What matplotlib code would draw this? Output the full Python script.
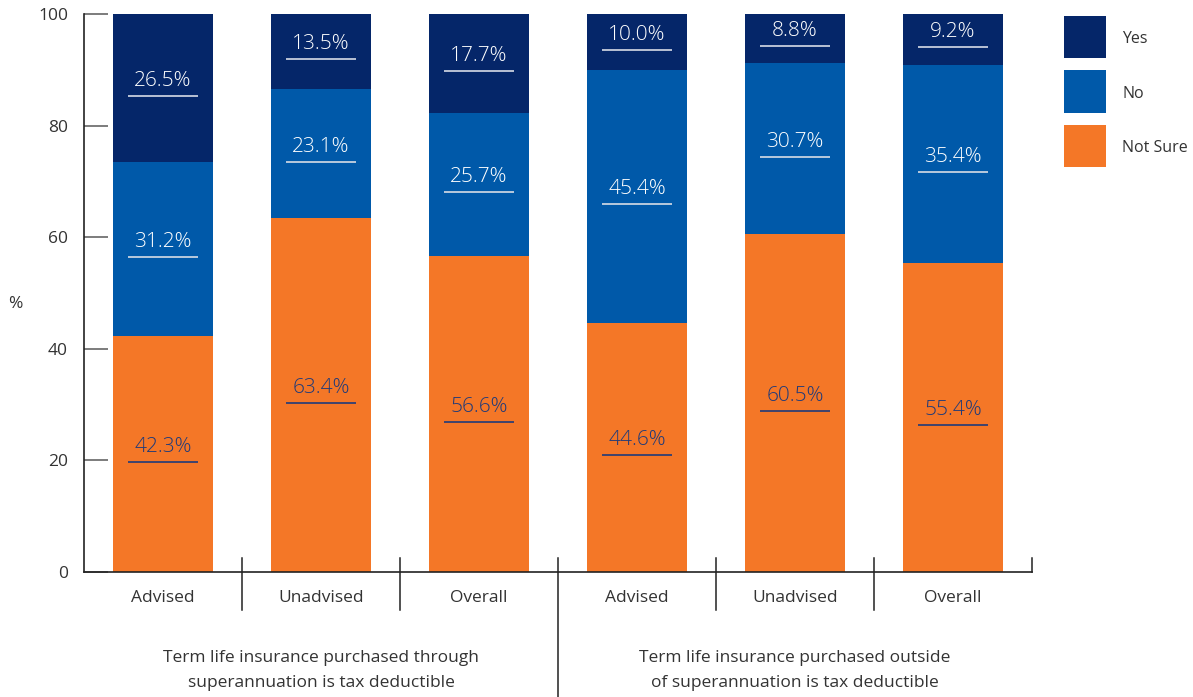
import matplotlib
matplotlib.use("Agg")
import matplotlib.pyplot as plt
import matplotlib.transforms as mtransforms
import numpy as np
from matplotlib.patches import Rectangle

plt.rcParams["font.family"] = ["Open Sans", "DejaVu Sans"]

# -- Data ---------------------------------------------------------------------
categories = ["Advised", "Unadvised", "Overall", "Advised", "Unadvised", "Overall"]
group_labels = [
    "Term life insurance purchased through\nsuperannuation is tax deductible",
    "Term life insurance purchased outside\nof superannuation is tax deductible",
]
not_sure = [42.3, 63.4, 56.6, 44.6, 60.5, 55.4]
no = [31.2, 23.1, 25.7, 45.4, 30.7, 35.4]
yes = [26.5, 13.5, 17.7, 10.0, 8.8, 9.2]

series_names = ["Yes", "No", "Not Sure"]
C_YES = "#052669"
C_NO = "#0059a9"
C_NS = "#f47727"
TXT = "#333333"

W, H = 1193, 697
fig = plt.figure(figsize=(W / 100, H / 100), dpi=100)
ax = fig.add_axes([84 / W, 125 / H, 948 / W, 558 / H])

x = np.arange(len(categories)) + 0.5
w = 0.633

ns = np.array(not_sure)
nn = np.array(no)
yy = np.array(yes)

ax.bar(x, ns, w, color=C_NS, zorder=2)
ax.bar(x, nn, w, bottom=ns, color=C_NO, zorder=2)
ax.bar(x, yy, w, bottom=ns + nn, color=C_YES, zorder=2)

# -- Value labels with underline ---------------------------------------------
def label_segment(xc, bottom, height, txt_color, line_color):
    mid = bottom + height / 2
    ax.text(xc, mid + 1.3, f"{height:.1f}%", ha="center", va="center",
            fontsize=15, fontweight="light", color=txt_color, zorder=4)
    ax.plot([xc - 0.222, xc + 0.222], [mid - 1.4, mid - 1.4],
            color=line_color, lw=1.2, zorder=4, solid_capstyle="butt")

for i in range(len(categories)):
    label_segment(x[i], 0, ns[i], "#1f3a7a", "#1f3a7a")
    label_segment(x[i], ns[i], nn[i], "white", "#d8dce6")
    label_segment(x[i], ns[i] + nn[i], yy[i], "white", "#d8dce6")

# -- Axes styling -------------------------------------------------------------
ax.set_xlim(0, 6)
ax.set_ylim(0, 100)
ax.set_yticks(range(0, 101, 20))
ax.tick_params(axis="y", direction="in", length=17, width=1.2, color="#666666",
               pad=11.5, labelsize=12.5, labelcolor=TXT)
ax.set_xticks(x)
ax.set_xticklabels(categories, fontsize=12.5, color=TXT)
ax.tick_params(axis="x", length=0, pad=13)
for s in ("top", "right"):
    ax.spines[s].set_visible(False)
for s in ("left", "bottom"):
    ax.spines[s].set_color("#222222")
    ax.spines[s].set_linewidth(1.2)

ax.text(-69 / 948, 0.48, "%", transform=ax.transAxes, ha="center", va="center",
        fontsize=12.5, color=TXT)

# -- Separators -----------------------------------------------------------------
trans = mtransforms.blended_transform_factory(ax.transData, ax.transAxes)
for xs in (1, 2, 4, 5):
    ax.plot([xs, xs], [0.025, -0.068], color="#222222", lw=1.1,
            transform=trans, clip_on=False)
ax.plot([3, 3], [0.025, -0.224], color="#222222", lw=1.1,
        transform=trans, clip_on=False)
ax.plot([6, 6], [0.025, 0], color="#222222", lw=1.1,
        transform=trans, clip_on=False)

for gi, lbl in enumerate(group_labels):
    ax.text(1.5 + 3 * gi, -0.1765, lbl, transform=trans, ha="center", va="center",
            fontsize=12.5, color=TXT, linespacing=1.8)

# -- Legend (drawn in figure pixels) -------------------------------------------
colors = [C_YES, C_NO, C_NS]
for k, (name, col) in enumerate(zip(series_names, colors)):
    top = 16 + k * 54.5
    fig.patches.append(Rectangle((1064 / W, 1 - (top + 42) / H), 42 / W, 42 / H,
                                 transform=fig.transFigure, facecolor=col,
                                 edgecolor="none"))
    fig.text(1122 / W, 1 - (top + 23) / H, name, ha="left", va="center",
             fontsize=11.5, color=TXT)

fig.savefig("out.png", dpi=100)
